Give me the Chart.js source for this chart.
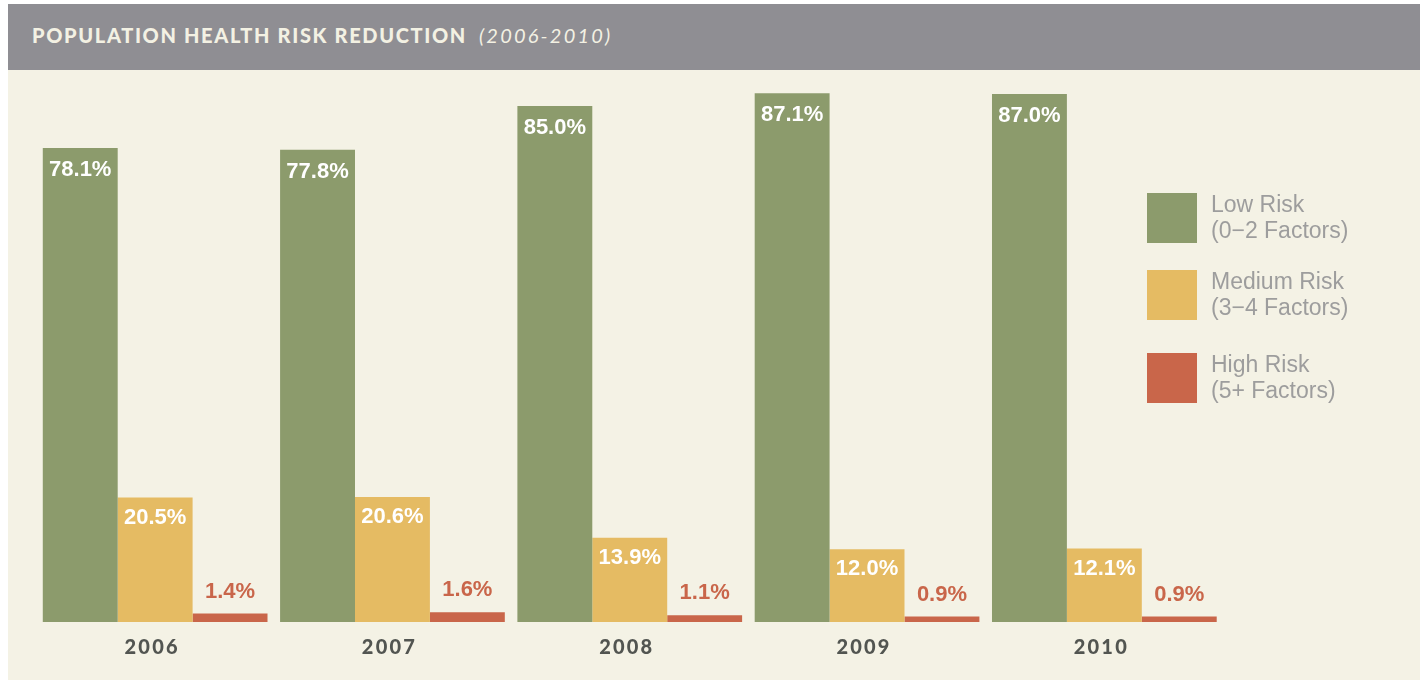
<!DOCTYPE html>
<html lang="en">
<head>
    <meta charset="UTF-8">
    <title>Population Health Risk Reduction</title>
    <style>
        body {
            margin: 0;
            background: #ffffff;
            width: 1427px;
            height: 683px;
            overflow: hidden;
            position: relative;
        }
        .header {
            position: absolute;
            left: 8px;
            top: 4px;
            width: 1412px;
            height: 66px;
            background: #8f8e93;
        }
        .header .title {
            position: absolute;
            left: 24px;
            top: 19px;
            font-family: Lato, sans-serif;
            font-weight: 900;
            font-size: 20px;
            letter-spacing: 1.65px;
            color: #f3f1e3;
            white-space: nowrap;
        }
        .header .title em {
            font-weight: 400;
            letter-spacing: 2.2px;
            margin-left: 12px;
        }
        .panel {
            position: absolute;
            left: 8px;
            top: 70px;
            width: 1412px;
            height: 610px;
            background: #f4f2e5;
        }
        #chartBox {
            position: absolute;
            left: 0;
            top: 0;
            width: 1427px;
            height: 683px;
        }
        .legend {
            position: absolute;
            left: 1147px;
            top: 0;
            font-family: "Liberation Sans", Arial, sans-serif;
            font-size: 23px;
            line-height: 26px;
            color: #9d9d9d;
        }
        .legend .item {
            position: absolute;
            left: 0;
            white-space: nowrap;
        }
        .legend .swatch {
            position: absolute;
            left: 0;
            width: 50px;
            height: 50px;
        }
        .legend .text {
            position: absolute;
            left: 64px;
        }
    </style>
    <script src="https://cdn.jsdelivr.net/npm/chart.js"></script>
</head>
<body>
    <div class="header">
        <div class="title">POPULATION HEALTH RISK REDUCTION<em>(2006-2010)</em></div>
    </div>
    <div class="panel"></div>
    <div id="chartBox"><canvas id="riskChart" width="1427" height="683"></canvas></div>
    <div class="legend" id="legend"></div>

    <script>
        // chart values
        const years = ['2006', '2007', '2008', '2009', '2010'];
        const lowRisk = [78.1, 77.8, 85.0, 87.1, 87.0];
        const mediumRisk = [20.5, 20.6, 13.9, 12.0, 12.1];
        const highRisk = [1.4, 1.6, 1.1, 0.9, 0.9];

        const seriesNames = [
            ['Low Risk', '(0\u22122 Factors)'],
            ['Medium Risk', '(3\u22124 Factors)'],
            ['High Risk', '(5+ Factors)']
        ];
        const colors = ['#8c9b6c', '#e5bb63', '#c9664a'];

        // legend on the right
        const legendTops = [193, 270, 353];
        const legendEl = document.getElementById('legend');
        seriesNames.forEach((lines, i) => {
            const item = document.createElement('div');
            item.className = 'item';
            item.style.top = legendTops[i] + 'px';
            item.innerHTML = '<div class="swatch" style="background:' + colors[i] + '"></div>' +
                '<div class="text" style="top:-2px">' + lines.join('<br>') + '</div>';
            legendEl.appendChild(item);
        });

        // value labels + year labels
        const labelPlugin = {
            id: 'valueLabels',
            afterDatasetsDraw(chart) {
                const ctx = chart.ctx;
                ctx.save();
                ctx.textAlign = 'center';
                ctx.textBaseline = 'middle';
                ctx.font = 'bold 22px "Liberation Sans", Arial, sans-serif';
                chart.data.datasets.forEach((ds, di) => {
                    const meta = chart.getDatasetMeta(di);
                    meta.data.forEach((bar, i) => {
                        const txt = ds.data[i].toFixed(1) + '%';
                        if (di === 0) {
                            ctx.fillStyle = '#ffffff';
                            ctx.fillText(txt, bar.x, bar.y + 22);
                        } else if (di === 1) {
                            ctx.fillStyle = '#ffffff';
                            ctx.fillText(txt, bar.x, bar.y + 20);
                        } else {
                            ctx.fillStyle = colors[2];
                            ctx.fillText(txt, bar.x, bar.y - 22);
                        }
                    });
                });

                // year labels under each group
                const xScale = chart.scales.x;
                ctx.font = '900 20px Lato, sans-serif';
                ctx.fillStyle = '#525551';
                ctx.letterSpacing = '2.2px';
                years.forEach((y, i) => {
                    ctx.fillText(y, xScale.getPixelForValue(i) - 3, chart.chartArea.bottom + 26);
                });
                ctx.restore();
            }
        };

        function drawChart() {
            const ctx = document.getElementById('riskChart').getContext('2d');
            new Chart(ctx, {
                type: 'bar',
                data: {
                    labels: years,
                    datasets: [
                        { label: 'Low Risk (0-2 Factors)', data: lowRisk, backgroundColor: colors[0] },
                        { label: 'Medium Risk (3-4 Factors)', data: mediumRisk, backgroundColor: colors[1] },
                        { label: 'High Risk (5+ Factors)', data: highRisk, backgroundColor: colors[2] }
                    ]
                },
                options: {
                    responsive: false,
                    animation: false,
                    layout: {
                        padding: { left: 36.5, right: 204, top: 15, bottom: 61 }
                    },
                    datasets: {
                        bar: {
                            categoryPercentage: 0.947,
                            barPercentage: 1.0,
                            borderWidth: 0
                        }
                    },
                    scales: {
                        x: { display: false },
                        y: { display: false, min: 0, max: 100 }
                    },
                    plugins: {
                        legend: { display: false },
                        tooltip: { enabled: false }
                    }
                },
                plugins: [labelPlugin]
            });
        }

        Promise.all([
            document.fonts.load('900 20px Lato'),
            document.fonts.load('bold 22px "Liberation Sans"')
        ]).then(drawChart, drawChart);
    </script>
</body>
</html>
